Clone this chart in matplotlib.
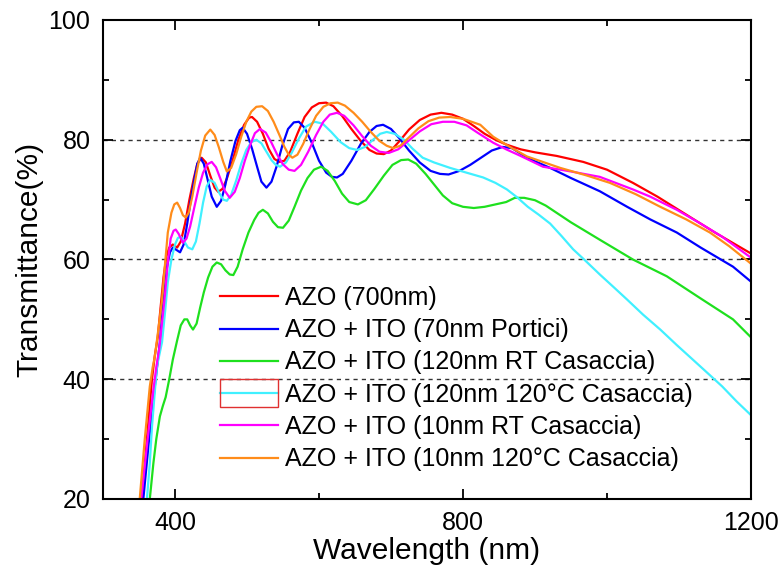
import matplotlib
matplotlib.use("Agg")
import matplotlib.pyplot as plt
from matplotlib.ticker import MultipleLocator
from matplotlib.patches import Rectangle

plt.rcParams['font.family'] = ['Liberation Sans', 'DejaVu Sans']

# ---- data ----
red_wl = [340, 354, 361, 368, 372, 376, 380, 384, 388, 392, 397, 403, 408, 414, 420, 426, 431, 437, 443, 449,
          455, 460, 466, 472, 480, 488, 496, 503, 507, 514, 522, 530, 538, 545, 552, 560, 570, 580, 590, 600,
          610, 620, 632, 645, 658, 670, 680, 690, 700, 712, 725, 740, 755, 770, 785, 800, 815, 830, 845, 860,
          880, 900, 930, 967, 1000, 1036, 1070, 1106, 1150, 1200]
red_t = [10, 20, 30, 40, 44, 47, 52, 57, 60.5, 62, 62.5, 62, 63, 66, 70, 73.5, 76, 77, 76.2, 74,
         72, 71.3, 71.8, 73.5, 76.5, 80, 82.5, 83.7, 83.8, 83, 81, 78.5, 76.8, 76.3, 76.5, 78, 81, 83.8, 85.4, 86.1,
         86.2, 85.6, 84, 81.8, 79.8, 78.3, 77.7, 77.6, 78.2, 79.8, 81.7, 83.3, 84.2, 84.5, 84.2, 83.5, 82.3, 81, 80, 79.2,
         78.4, 77.9, 77.3, 76.3, 75, 72.8, 70.5, 67.8, 64.5, 61]

blue_wl = [340, 356, 364, 372, 376, 379, 384, 389, 393, 397, 402, 407, 412, 417, 422, 427, 431, 435, 440, 445,
           451, 458, 464, 470, 477, 484, 490, 494, 500, 507, 514, 520, 527, 534, 541, 549, 557, 565, 572, 580,
           590, 600, 610, 618, 625, 633, 645, 658, 670, 680, 689, 700, 712, 725, 740, 755, 768, 780, 795, 810,
           825, 840, 855, 868, 885, 900, 921, 950, 990, 1028, 1060, 1097, 1130, 1175, 1200]
blue_t = [10, 20, 30, 38.8, 43, 46.2, 53, 58.8, 61.2, 62, 61.6, 61.2, 62.5, 66, 70, 73.5, 76, 77, 76, 73.5,
          70.5, 68.8, 69.8, 72.5, 76.5, 79.8, 81.6, 82, 81, 78.5, 75.5, 73, 72, 73, 75.5, 79, 81.8, 82.9, 83, 82,
          79.5, 76.5, 74.5, 73.8, 73.7, 74.3, 76.5, 79.3, 81.3, 82.3, 82.5, 81.8, 80.2, 78.2, 76.2, 74.8, 74.3, 74.2, 74.8, 75.8,
          77, 78.2, 78.8, 78.6, 77.3, 76.4, 75.3, 73.6, 71.4, 68.8, 66.7, 64.5, 62, 58.8, 56.3]

green_wl = [355, 365, 370, 374, 379, 383, 387, 392, 397, 403, 408, 413, 417, 421, 425, 430, 435, 440, 446, 452,
            458, 464, 470, 476, 481, 487, 494, 502, 510, 516, 522, 529, 536, 543, 550, 558, 566, 575, 584, 593,
            603, 612, 622, 632, 642, 654, 665, 677, 690, 702, 714, 724, 735, 748, 760, 772, 785, 800, 815, 830,
            845, 860, 872, 885, 900, 915, 930, 950, 990, 1036, 1083, 1130, 1175, 1200]
green_t = [10, 20, 26, 30, 33.8, 35.5, 37, 40, 43.3, 46.5, 49, 50, 50, 49, 48.3, 49.3, 52, 54.5, 57, 58.8,
           59.5, 59.2, 58.2, 57.5, 57.4, 58.8, 61.7, 64.5, 66.6, 67.8, 68.3, 67.7, 66.3, 65.4, 65.3, 66.5, 68.8, 71.5, 73.6, 75,
           75.5, 74.8, 73.1, 71, 69.6, 69.2, 69.9, 71.8, 74, 75.8, 76.6, 76.7, 76, 74.3, 72.5, 70.7, 69.4, 68.8, 68.6, 68.8,
           69.2, 69.6, 70.3, 70.3, 69.9, 69, 67.8, 66.2, 63.3, 60, 57.2, 53.5, 50, 47]

cyan_wl = [345, 361, 365, 368, 372, 375, 379, 382, 386, 390, 395, 400, 404, 408, 413, 418, 424, 429, 434, 439,
           444, 449, 455, 461, 467, 472, 478, 485, 492, 499, 506, 513, 520, 527, 534, 540, 546, 554, 562, 572,
           582, 594, 605, 617, 630, 642, 653, 664, 675, 685, 694, 705, 718, 730, 744, 760, 782, 805, 828, 845,
           861, 875, 890, 905, 921, 937, 953, 970, 990, 1010, 1028, 1050, 1074, 1097, 1119, 1140, 1160, 1180, 1200]
cyan_t = [10, 20, 26, 32, 38, 42.2, 44.5, 46.2, 51, 56.2, 60, 62.5, 63.6, 63.8, 63, 62, 61.7, 63, 66, 69.5,
          72.2, 73.3, 72.8, 71.2, 70, 69.8, 70.8, 73.2, 76, 78.3, 79.6, 80, 79.4, 78, 76.6, 75.8, 75.5, 76.2, 77.8, 80.2,
          82.2, 83, 82.7, 81.3, 79.6, 78.6, 78.3, 78.8, 80, 81, 81.3, 81, 80, 78.5, 77, 76.2, 75.3, 74.5, 73.7, 72.8,
          71.7, 70.4, 68.8, 67.5, 66, 63.9, 61.7, 59.8, 57.5, 55.3, 53.3, 50.8, 48.3, 45.7, 43.3, 41, 38.8, 36.3, 34]

mag_wl = [342, 354, 362, 370, 374, 378, 382, 386, 390, 394, 398, 401, 405, 411, 416, 421, 427, 433, 439, 445,
          451, 457, 463, 469, 476, 483, 490, 497, 504, 511, 518, 526, 534, 542, 550, 558, 566, 575, 585, 596,
          606, 615, 625, 635, 648, 660, 672, 684, 697, 710, 724, 740, 756, 772, 788, 805, 820, 842, 860, 880,
          911, 950, 990, 1036, 1060, 1097, 1130, 1160, 1200]
mag_t = [10, 21, 30, 38.3, 42, 45, 49.5, 54, 59.5, 63.5, 64.8, 65, 64.3, 62.8, 63.5, 65.5, 68.8, 72, 74.5, 75.9,
         76.3, 75.4, 73.5, 71.5, 70.3, 71.3, 73.6, 76.5, 79, 81.1, 81.8, 81.2, 79.5, 77.5, 75.9, 75, 74.8, 75.8, 78, 80.8,
         83, 84.2, 84.5, 84, 82.4, 80.6, 79, 78, 77.8, 78.4, 79.8, 81.4, 82.6, 83, 83, 82.4, 81.2, 79.5, 78.4, 77.3,
         75.5, 74.7, 73.8, 71.7, 70.5, 68.3, 66, 63.8, 60.3]

orange_wl = [340, 351, 358, 365, 369, 372, 376, 382, 386, 390, 395, 399, 403, 407, 411, 415, 419, 424, 430, 436,
             442, 449, 455, 461, 467, 472, 478, 485, 492, 499, 506, 513, 521, 529, 537, 545, 552, 558, 563, 570,
             578, 587, 596, 606, 616, 626, 636, 648, 660, 672, 684, 694, 703, 713, 725, 738, 752, 767, 782, 800,
             824, 842, 865, 889, 935, 970, 1004, 1040, 1074, 1110, 1143, 1170, 1200]
orange_t = [10, 20, 30, 38.8, 42, 43.8, 47.5, 53.3, 59, 64.5, 67.8, 69.2, 69.5, 68.6, 67.4, 67, 67.8, 70.5, 74.5, 78.2,
            80.7, 81.7, 80.8, 78.7, 76.3, 74.7, 75.3, 77.6, 80.5, 83, 84.7, 85.5, 85.6, 84.8, 83, 80.8, 78.8, 77.5, 77, 77.5,
            79.3, 81.8, 84, 85.5, 86.1, 86.2, 85.7, 84.5, 83, 81.3, 79.8, 79, 78.6, 79, 80.4, 81.9, 83.1, 83.7, 83.8, 83.5,
            82.5, 80.5, 78.8, 77.2, 75.3, 74.1, 72.8, 70.9, 68.8, 66.7, 64.5, 62.2, 59.3]

labels = ["AZO (700nm)",
          "AZO + ITO (70nm Portici)",
          "AZO + ITO (120nm RT Casaccia)",
          "AZO + ITO (120nm 120\u00b0C Casaccia)",
          "AZO + ITO (10nm RT Casaccia)",
          "AZO + ITO (10nm 120\u00b0C Casaccia)"]
colors = ["#ff0000", "#0000ff", "#1ee01e", "#40f0ff", "#ff00ff", "#ff8c1a"]

series = [(red_wl, red_t), (blue_wl, blue_t), (green_wl, green_t),
          (cyan_wl, cyan_t), (mag_wl, mag_t), (orange_wl, orange_t)]

# ---- figure ----
fig = plt.figure(figsize=(7.84, 5.69), dpi=100)
ax = fig.add_axes([103/784, 1 - 499/569, (751 - 103)/784, (499 - 20)/569])

for (wl, t), c, lab in zip(series, colors, labels):
    ax.plot(wl, t, color=c, lw=1.6, label=lab, solid_joinstyle='round')

ax.set_xlim(300, 1200)
ax.set_ylim(20, 100)
ax.xaxis.set_major_locator(MultipleLocator(400))
ax.xaxis.set_minor_locator(MultipleLocator(200))
ax.yaxis.set_major_locator(MultipleLocator(20))
ax.yaxis.set_minor_locator(MultipleLocator(10))

for g in [40, 60, 80]:
    ax.axhline(g, color="#333333", lw=1.0, ls=(0, (3, 3)), zorder=0)

ax.tick_params(which='both', direction='in', top=True, right=True, width=1.3)
ax.tick_params(which='major', length=7, labelsize=18, pad=9)
ax.tick_params(which='minor', length=4)
for s in ax.spines.values():
    s.set_linewidth(1.5)

ax.set_xlabel("Wavelength (nm)", fontsize=21.5, labelpad=1)
ax.set_ylabel("Transmittance(%)", fontsize=21.5, labelpad=4)

leg = ax.legend(loc='upper left', bbox_to_anchor=(220/784, 1 - 286/569),
                bbox_transform=fig.transFigure, frameon=False, fontsize=18,
                handlelength=2.32, handletextpad=0.28, labelspacing=0.33,
                borderpad=0, borderaxespad=0)

fig.canvas.draw()
r = fig.canvas.get_renderer()
bb = leg.get_lines()[3].get_window_extent(r)
yc = (bb.y0 + bb.y1) / 2
inv = fig.transFigure.inverted()
(x0, y0) = inv.transform((bb.x0, yc - 14))
(x1, y1) = inv.transform((bb.x1, yc + 14))
fig.patches.append(Rectangle((x0, y0), x1 - x0, y1 - y0, transform=fig.transFigure,
                             fill=False, edgecolor="#e03030", lw=1.0))

fig.savefig("out.png", dpi=100)
